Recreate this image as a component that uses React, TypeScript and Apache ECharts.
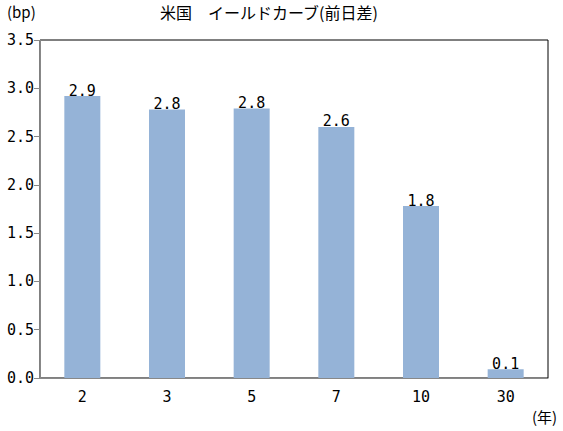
import React, { useEffect, useRef } from "react";
import * as echarts from "echarts";

const categories = ["2", "3", "5", "7", "10", "30"];
const values = [2.92, 2.78, 2.79, 2.6, 1.78, 0.09];
const labels = ["2.9", "2.8", "2.8", "2.6", "1.8", "0.1"];
const yTicks = { min: 0, max: 3.5, interval: 0.5 };

const CJK = "'Noto Sans CJK JP', sans-serif";
const NUM = "'DejaVu Sans Mono', 'Liberation Mono', monospace";

export default function App() {
  const ref = useRef<HTMLDivElement>(null);
  useEffect(() => {
    if (!ref.current) return;
    const chart = echarts.init(ref.current, undefined, { renderer: "svg" });
    chart.setOption({
      animation: false,
      backgroundColor: "#fff",
      textStyle: { fontFamily: NUM },
      grid: {
        left: 40,
        right: 15,
        top: 40,
        bottom: 53,
        show: true,
        borderColor: "#000",
        borderWidth: 1,
        backgroundColor: "transparent",
      },
      graphic: [
        {
          type: "text",
          left: 160,
          top: 4,
          style: {
            text: "米国　イールドカーブ(前日差)",
            fontSize: 16,
            fontFamily: CJK,
            fill: "#000",
          },
        },
        {
          type: "text",
          left: 7,
          top: 4,
          style: { text: "(bp)", fontSize: 15, fontFamily: CJK, fill: "#000" },
        },
        {
          type: "text",
          left: 532,
          top: 409,
          style: { text: "(年)", fontSize: 15, fontFamily: CJK, fill: "#000" },
        },
      ],
      xAxis: {
        type: "category",
        data: categories,
        axisLine: { show: true, lineStyle: { color: "#888", width: 1 } },
        axisTick: { show: false },
        axisLabel: { color: "#000", fontSize: 15, margin: 11, fontFamily: NUM },
      },
      yAxis: {
        type: "value",
        min: yTicks.min,
        max: yTicks.max,
        interval: yTicks.interval,
        splitLine: { show: false },
        axisLine: { show: true, lineStyle: { color: "#888", width: 1 } },
        axisTick: { show: true, length: 6, lineStyle: { color: "#888" } },
        axisLabel: {
          color: "#000",
          fontSize: 15,
          margin: 6,
          fontFamily: NUM,
          formatter: (v: number) => v.toFixed(1),
        },
      },
      series: [
        {
          type: "bar",
          data: values,
          barWidth: 36,
          itemStyle: { color: "#95B3D7" },
          label: {
            show: true,
            position: "top",
            distance: -2,
            color: "#000",
            fontSize: 15,
            fontFamily: NUM,
            formatter: (p: any) => labels[p.dataIndex],
          },
        },
      ],
    });
    return () => chart.dispose();
  }, []);
  return (
    <div
      ref={ref}
      style={{ position: "absolute", left: 0, top: 0, width: 563, height: 431 }}
    />
  );
}
